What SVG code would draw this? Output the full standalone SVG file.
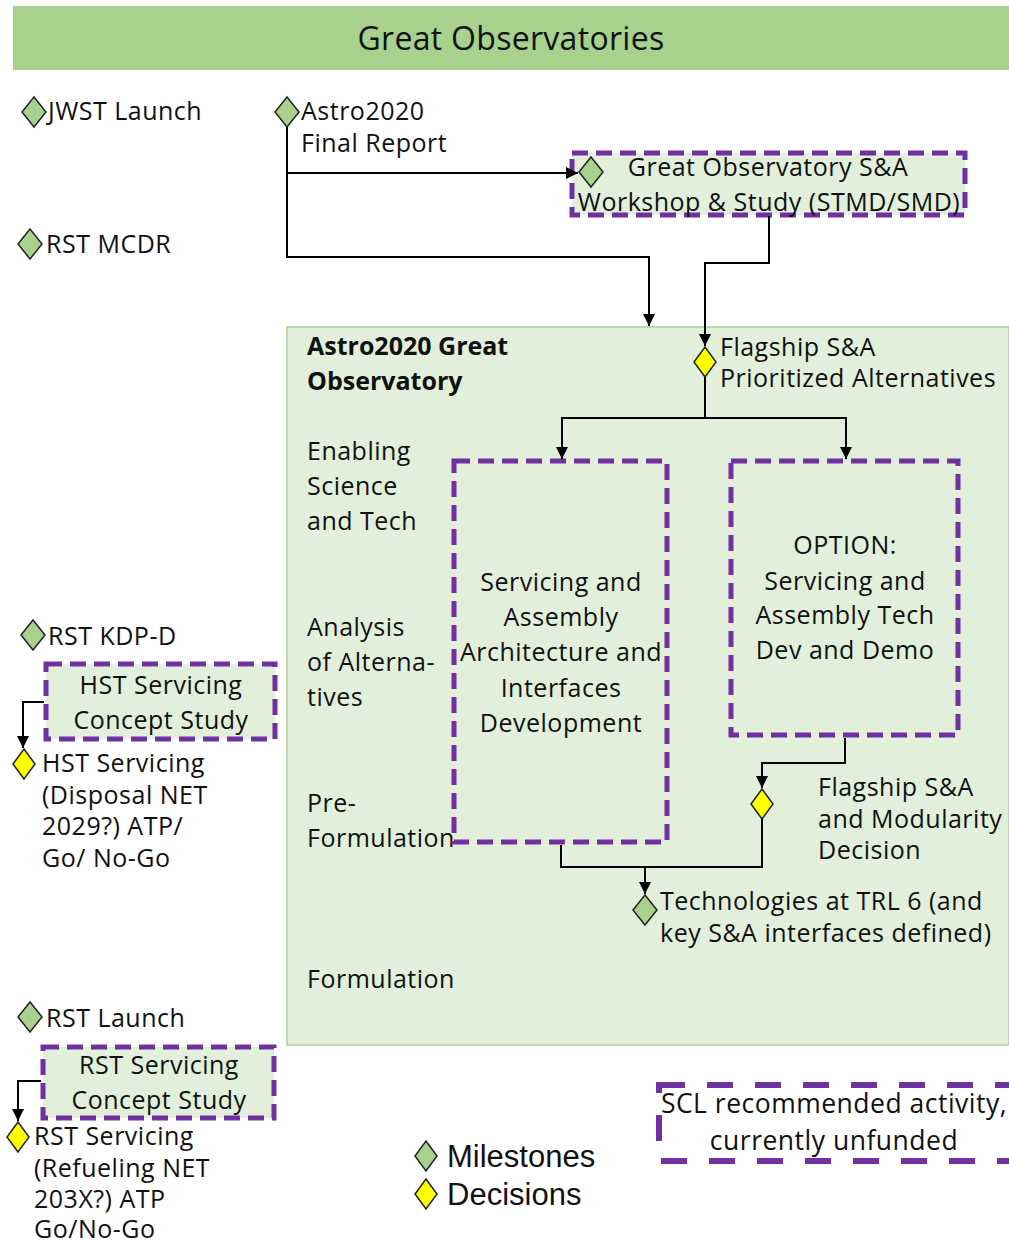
<svg xmlns="http://www.w3.org/2000/svg" width="1009" height="1243" viewBox="0 0 1009 1243">
<defs>
<marker id="arr" viewBox="0 0 12 12" refX="12" refY="6" markerWidth="13" markerHeight="12" markerUnits="userSpaceOnUse" orient="auto"><path d="M0,0 L12,6 L0,12 z" fill="#000"/></marker>
<style>
text{font-family:"Open Sans","Liberation Sans",sans-serif;font-size:25px;letter-spacing:0.5px;fill:#111}
.c{text-anchor:middle}
.b{font-weight:bold;letter-spacing:0}
.dash{fill:#e2efda;stroke:#7030a0;stroke-width:5;stroke-dasharray:16 8}
.ms{fill:#a9d18e;stroke:#222;stroke-width:1.5}
.dc{fill:#ffff00;stroke:#222;stroke-width:1.5}
.ln{fill:none;stroke:#000;stroke-width:2}
.leg{font-family:"Liberation Sans",Arial,sans-serif;font-size:31px;letter-spacing:0}
.scl{font-size:26.5px}
</style>
</defs>
<rect width="1009" height="1243" fill="#fff"/>
<g id="header">
<rect x="13" y="6" width="996" height="64" fill="#a9d18e"/>
<text x="511" y="50" class="c" style="font-size:32px;letter-spacing:0.3px">Great Observatories</text>
</g>
<g id="main-box">
<rect x="287" y="327" width="722" height="718" fill="#e2efda" stroke="#a9d18e" stroke-width="1.5"/>
<text x="307" y="355" class="b">Astro2020 Great</text>
<text x="307" y="390" class="b">Observatory</text>
<text x="307" y="460">Enabling</text>
<text x="307" y="495">Science</text>
<text x="307" y="530">and Tech</text>
<text x="307" y="636">Analysis</text>
<text x="307" y="671">of Alterna-</text>
<text x="307" y="706">tives</text>
<text x="307" y="812">Pre-</text>
<text x="307" y="847">Formulation</text>
<text x="307" y="988">Formulation</text>
</g>
<g id="jwst-launch">
<path class="ms" d="M34,97 L46,112 L34,127 L22,112 z"/>
<text x="48" y="120">JWST Launch</text>
</g>
<g id="astro2020-final-report">
<path class="ms" d="M287,97 L299,112 L287,127 L275,112 z"/>
<text x="301" y="120">Astro2020</text>
<text x="301" y="152">Final Report</text>
</g>
<g id="rst-mcdr">
<path class="ms" d="M30,229 L42,244 L30,259 L18,244 z"/>
<text x="46" y="253">RST MCDR</text>
</g>
<g id="workshop">
<rect class="dash" x="572" y="153" width="393" height="62"/>
<path class="ms" d="M591,157 L603,172 L591,187 L579,172 z"/>
<text x="768" y="176" class="c">Great Observatory S&amp;A</text>
<text x="769" y="211" class="c">Workshop &amp; Study (STMD/SMD)</text>
</g>
<g id="flagship-prioritized">
<path class="dc" d="M705,347 L716,362 L705,377 L694,362 z"/>
<text x="720" y="356">Flagship S&amp;A</text>
<text x="720" y="387">Prioritized Alternatives</text>
</g>
<g id="sa-architecture">
<rect class="dash" x="454" y="461" width="213" height="381"/>
<text x="561" y="591" class="c">Servicing and</text>
<text x="561" y="626" class="c">Assembly</text>
<text x="561" y="661" class="c">Architecture and</text>
<text x="561" y="697" class="c">Interfaces</text>
<text x="561" y="732" class="c">Development</text>
</g>
<g id="option-tech-demo">
<rect class="dash" x="731" y="461" width="227" height="274"/>
<text x="845" y="554" class="c">OPTION:</text>
<text x="845" y="590" class="c">Servicing and</text>
<text x="845" y="624" class="c">Assembly Tech</text>
<text x="845" y="659" class="c">Dev and Demo</text>
</g>
<g id="flagship-modularity">
<path class="dc" d="M762,789 L773,804 L762,819 L751,804 z"/>
<text x="818" y="796">Flagship S&amp;A</text>
<text x="818" y="828">and Modularity</text>
<text x="818" y="859">Decision</text>
</g>
<g id="trl6">
<path class="ms" d="M645,895 L657,910 L645,925 L633,910 z"/>
<text x="660" y="910">Technologies at TRL 6 (and</text>
<text x="660" y="942">key S&amp;A interfaces defined)</text>
</g>
<g id="rst-kdpd">
<path class="ms" d="M33,620 L45,635 L33,650 L21,635 z"/>
<text x="48" y="645">RST KDP-D</text>
</g>
<g id="hst-study">
<rect class="dash" x="46" y="664" width="229" height="75"/>
<text x="161" y="694" class="c">HST Servicing</text>
<text x="161" y="729" class="c">Concept Study</text>
</g>
<g id="hst-decision">
<path class="dc" d="M24,749 L35,764 L24,779 L13,764 z"/>
<text x="42" y="772">HST Servicing</text>
<text x="42" y="804">(Disposal NET</text>
<text x="42" y="835">2029?) ATP/</text>
<text x="42" y="867">Go/ No-Go</text>
</g>
<g id="rst-launch">
<path class="ms" d="M30,1002 L42,1017 L30,1032 L18,1017 z"/>
<text x="46" y="1027">RST Launch</text>
</g>
<g id="rst-study">
<rect class="dash" x="43" y="1047" width="231" height="71"/>
<text x="159" y="1074" class="c">RST Servicing</text>
<text x="159" y="1109" class="c">Concept Study</text>
</g>
<g id="rst-decision">
<path class="dc" d="M18,1122 L29,1137 L18,1152 L7,1137 z"/>
<text x="34" y="1145">RST Servicing</text>
<text x="34" y="1177">(Refueling NET</text>
<text x="34" y="1208">203X?) ATP</text>
<text x="34" y="1238">Go/No-Go</text>
</g>
<g id="legend">
<path class="ms" d="M426,1141 L437,1156 L426,1171 L415,1156 z"/>
<text x="447" y="1167" class="leg">Milestones</text>
<path class="dc" d="M426,1179 L437,1194 L426,1209 L415,1194 z"/>
<text x="447" y="1205" class="leg">Decisions</text>
<rect x="659" y="1085" width="360" height="76" fill="none" stroke="#7030a0" stroke-width="6" stroke-dasharray="26 22"/>
<text x="834" y="1113" class="c scl">SCL recommended activity,</text>
<text x="834" y="1150" class="c scl">currently unfunded</text>
</g>
<g id="connectors">
<path class="ln" d="M287,127 V257 H649 V326" marker-end="url(#arr)"/>
<path class="ln" d="M287,173 H578" marker-end="url(#arr)"/>
<path class="ln" d="M769,216 V263 H705 V346" marker-end="url(#arr)"/>
<path class="ln" d="M705,377 V418 H562 V459" marker-end="url(#arr)"/>
<path class="ln" d="M705,418 H846 V459" marker-end="url(#arr)"/>
<path class="ln" d="M845,738 V763 H762 V788" marker-end="url(#arr)"/>
<path class="ln" d="M762,819 V867 H645 V894" marker-end="url(#arr)"/>
<path class="ln" d="M561,845 V867 H645"/>
<path class="ln" d="M44,702 H23 V748" marker-end="url(#arr)"/>
<path class="ln" d="M41,1081 H18 V1121" marker-end="url(#arr)"/>
</g>
</svg>
